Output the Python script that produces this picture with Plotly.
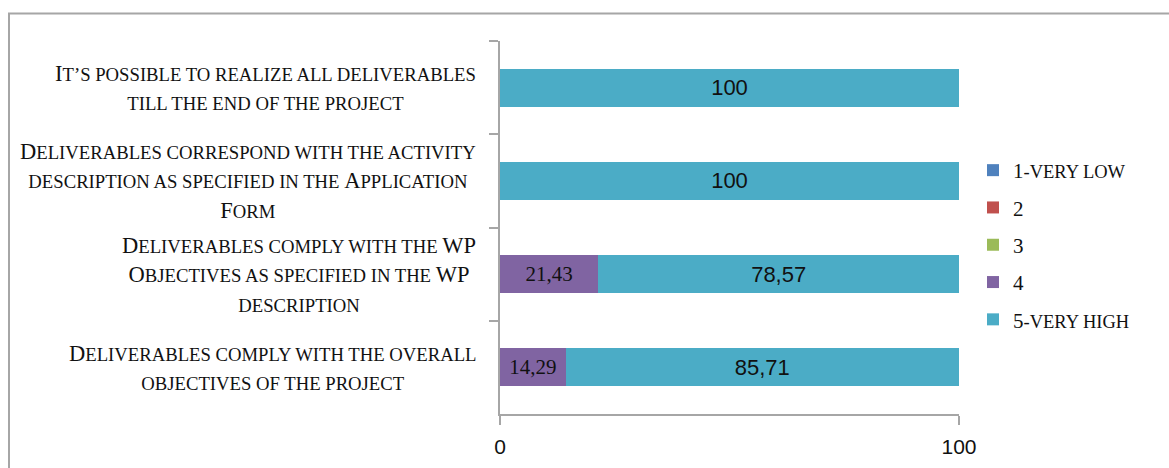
import plotly.graph_objects as go

categories = [
    "It’s possible to realize all deliverables<br>till the end of the project",
    "Deliverables correspond with the activity<br>description as specified in the Application<br>Form",
    "Deliverables comply with the WP<br>Objectives as specified in the WP<br>description",
    "Deliverables comply with the overall<br>objectives of the project",
]
series_names = ["1-very low", "2", "3", "4", "5-very high"]
series_values = [
    [0, 0, 0, 0],
    [0, 0, 0, 0],
    [0, 0, 0, 0],
    [0, 0, 21.43, 14.29],
    [100, 100, 78.57, 85.71],
]
series_colors = ["#4F81BD", "#C0504D", "#9BBB59", "#8064A2", "#4BACC6"]
x_ticks = [0, 100]

cat_ids = [f"c{i}" for i in range(len(categories))]


def small_caps(text, small_px):
    """Render text in small caps: capitals/digits at base size, the rest as smaller capitals."""
    out = []
    for line in text.split("<br>"):
        parts, run = [], ""
        for ch in line:
            big = ch.isupper() or ch.isdigit()
            if big:
                if run:
                    parts.append(f"<span style='font-size:{small_px}px'>{run.upper()}</span>")
                    run = ""
                parts.append(ch)
            else:
                run += ch
        if run:
            parts.append(f"<span style='font-size:{small_px}px'>{run.upper()}</span>")
        out.append("".join(parts))
    return "<br>".join(out)


def fmt(v):
    if v == 0:
        return ""
    s = f"{v:.2f}".rstrip("0").rstrip(".")
    return s.replace(".", ",")


fig = go.Figure()
for name, vals, col in zip(series_names, series_values, series_colors):
    is_four = name == "4"
    fig.add_trace(go.Bar(
        y=cat_ids, x=vals, name=small_caps(name, 18.5), orientation="h",
        marker=dict(color=col, line=dict(width=0)),
        text=[fmt(v) for v in vals],
        textposition="inside", insidetextanchor="middle", textangle=0,
        textfont=dict(family="Liberation Serif" if is_four else "Liberation Sans",
                      size=21 if is_four else 22, color="#111111"),
        legendgroup=name,
    ))

W, H = 1169, 468
L, R, T, B = 500, 959, 41, 414


def px_x(p):
    return (p - L) / (R - L)


def px_y(p):
    return (B - p) / (B - T)


annotations = []
for cid, label in zip(cat_ids, categories):
    annotations.append(dict(
        xref="paper", yref="y", x=px_x(478), y=cid,
        xanchor="right", yanchor="middle", align="center",
        text=small_caps(label, 18.7), showarrow=False,
        font=dict(family="Liberation Serif", size=22.5, color="#111111"),
    ))

fig.add_shape(type="rect", xref="paper", yref="paper",
              x0=px_x(9), x1=px_x(1190), y0=px_y(490), y1=px_y(13.5),
              line=dict(color="#A6A6A6", width=2), fillcolor="rgba(0,0,0,0)", layer="below")

fig.update_layout(
    width=W, height=H,
    margin=dict(l=L, r=W - R, t=T, b=H - B, pad=0, autoexpand=False),
    paper_bgcolor="white", plot_bgcolor="white",
    barmode="stack", bargap=0.59,
    showlegend=True,
    legend=dict(
        x=px_x(973), xanchor="left", y=px_y(150), yanchor="top",
        traceorder="grouped", tracegroupgap=7, itemwidth=30,
        font=dict(family="Liberation Serif", size=21, color="#111111"),
        bgcolor="rgba(0,0,0,0)",
    ),
    annotations=annotations,
    xaxis=dict(
        range=[0, 100], tickvals=x_ticks, ticktext=[str(t) for t in x_ticks],
        showgrid=False, zeroline=False, showline=True, linecolor="#A6A6A6", linewidth=1.5,
        ticks="outside", ticklen=9, tickcolor="#A6A6A6", tickwidth=1.5,
        tickfont=dict(family="Liberation Sans", size=21, color="#111111"),
        ticklabelstandoff=4, automargin=False,
    ),
    yaxis=dict(
        categoryorder="array", categoryarray=cat_ids, autorange="reversed",
        showticklabels=False, showgrid=False, zeroline=False,
        showline=True, linecolor="#A6A6A6", linewidth=1.5,
        ticks="outside", ticklen=9, tickcolor="#A6A6A6", tickwidth=1.5,
        tickson="boundaries", automargin=False,
    ),
)

fig.write_html(
    "out.html",
    config={"displayModeBar": False},
    post_script="document.body.style.margin='0';document.body.style.overflow='hidden';",
)
